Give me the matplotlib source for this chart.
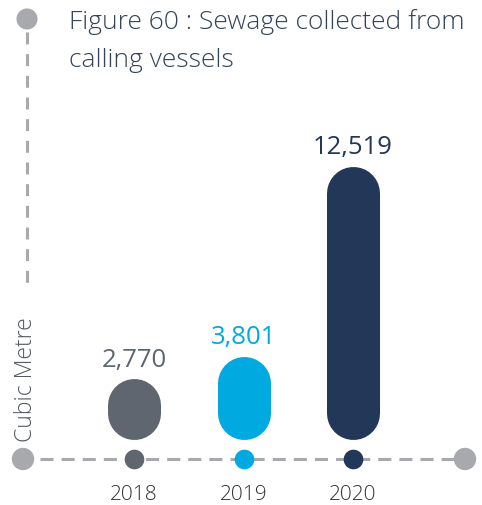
import matplotlib
matplotlib.use("Agg")
import matplotlib.pyplot as plt

plt.rcParams['font.family'] = ['Open Sans', 'DejaVu Sans']
plt.rcParams['lines.scale_dashes'] = False

# Sewage collected (cubic metre)
years = ["2018", "2019", "2020"]
values = [2770, 3801, 12519]
labels = ["2,770", "3,801", "12,519"]
colors = ["#5f6670", "#00a9e0", "#233858"]

title_lines = ["Figure 60 : Sewage collected from", "calling vessels"]
unit = "Cubic Metre"

GREY = "#a7a9ac"
W, H, DPI = 482, 506, 100

fig = plt.figure(figsize=(W / DPI, H / DPI), dpi=DPI)

# background axes in pixel space for the frame decoration
ax = fig.add_axes([0, 0, 1, 1])
ax.set_xlim(0, W)
ax.set_ylim(H, 0)
ax.axis("off")

ax.plot([27, 27], [33, 292], color=GREY, lw=2.2, linestyle=(0, (8.6, 7.0)))
ax.plot([40, 455], [460, 460], color=GREY, lw=2.2, linestyle=(0, (9.4, 5.8)))
ax.scatter([27, 23, 465], [20, 460, 460], s=[230, 260, 260], color=GREY, zorder=3, linewidths=0)

for k, line in enumerate(title_lines):
    ax.text(69, 29 + 38 * k, line, fontsize=19, color="#34435a",
            va="baseline", ha="left", fontweight="light")
ax.text(26, 380, unit, fontsize=16.5, color="#555a60", fontweight="light",
        rotation=90, ha="center", va="center")

# bar axes: y=0 at pixel 440, max value at pixel 167
bottom_px, top_px = 440, 167
left_px, right_px = 79.25, 407.75
bx = fig.add_axes([left_px / W, (H - bottom_px) / H,
                   (right_px - left_px) / W, (bottom_px - top_px) / H])
bx.set_xlim(-0.5, 2.5)
bx.set_ylim(0, max(values))
bx.axis("off")

bar_px = 53
per_px = max(values) / (bottom_px - top_px)
r = bar_px / 2 * per_px
for i, (v, c) in enumerate(zip(values, colors)):
    bx.plot([i, i], [r, v - r], color=c, lw=bar_px * 72 / DPI,
            solid_capstyle="round", clip_on=False)
    bx.annotate(labels[i], (i, v), xytext=(0, 13), textcoords="offset pixels",
                ha="center", va="baseline", fontsize=18.5, color=c)
    bx.scatter([i], [-20 * per_px], s=200, color=c, clip_on=False, zorder=4, linewidths=0)
    bx.annotate(years[i], (i, 0), xytext=(0, -60), textcoords="offset pixels",
                ha="center", va="baseline", fontsize=15, color="#333333",
                fontweight="light", annotation_clip=False)

fig.savefig("out.png", dpi=DPI)
